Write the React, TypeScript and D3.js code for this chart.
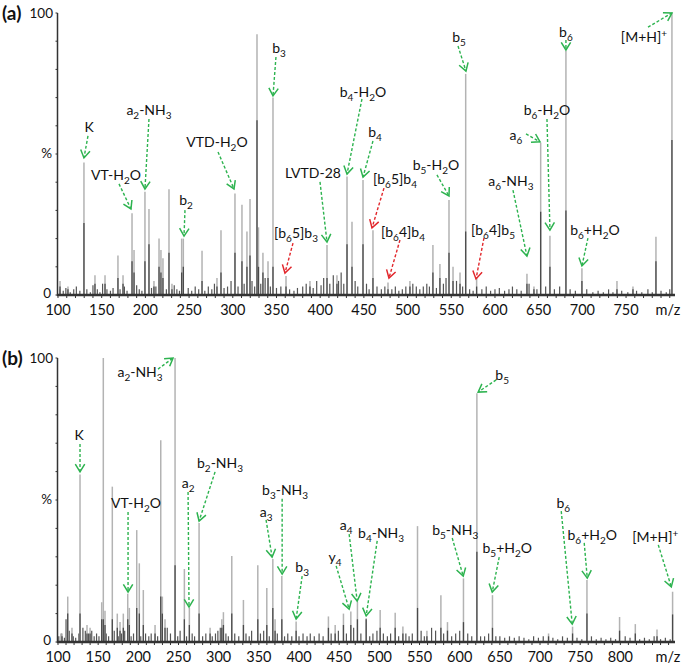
import React from "react";
import * as d3 from "d3";

const ticksA = [100, 150, 200, 250, 300, 350, 400, 450, 500, 550, 600, 650, 700, 750];
const ticksB = [100, 150, 200, 250, 300, 350, 400, 450, 500, 550, 600, 650, 700, 750, 800];

// [m/z, light intensity %, dark intensity %]
const peaksA: [number, number, number][] = [
  [102.3, 5, 3], [111.4, 3, 2], [129.7, 47, 25.5], [142.3, 7, 4], [153.8, 7, 4],
  [168.6, 14, 6], [174.4, 7, 4], [184.7, 29, 12], [187, 16, 8], [199.5, 36.6, 12],
  [204.1, 30.5, 18], [209.8, 5, 3], [215.6, 20, 10], [217.8, 16, 8], [220.1, 13, 6],
  [227, 37.5, 15], [230.4, 4, 2], [241.5, 20, 8], [243.4, 20, 10], [264.8, 15.7, 5],
  [281.9, 6, 3], [286.5, 23, 8], [302.5, 36, 15], [310.5, 32, 12], [316.2, 22.5, 10],
  [319.7, 34, 14], [327.7, 92.5, 62], [329.4, 24, 10], [334.5, 15, 8], [340.3, 12, 6],
  [346, 70, 10], [360.9, 6.7, 3], [388.3, 5, 3], [407.8, 17.7, 6], [419.2, 7, 4],
  [430.7, 42, 18], [436.4, 26, 10], [449, 40.8, 18], [460.4, 23, 6], [477.6, 4.4, 2],
  [502.7, 5, 3], [529, 17.7, 8], [537, 11, 6], [547.4, 33.7, 15], [552, 10, 5],
  [560, 8, 4], [566.5, 78.4, 22.5], [579, 6, 3], [636.6, 7.5, 4], [644.6, 3, 2],
  [652.3, 54, 29.5], [662.9, 21, 10], [681.2, 86.6, 30], [699.5, 9.5, 5], [739.6, 5, 2],
  [757.9, 3, 2], [784.2, 20.7, 12], [802.5, 100, 55],
];

// [m/z, intensity %]
const noiseA: [number, number][] = [
  [102, 2], [106, 1.5], [109, 2.5], [114, 1], [118, 2], [121, 3], [125, 1.5], [133, 2], [137, 1],
  [140, 3.5], [145, 2], [148, 1], [151, 4], [156, 2], [160, 1.5], [163, 2.5], [171, 2], [176, 3],
  [179, 1.5], [190, 3.5], [193, 2], [196, 1.5], [207, 2.5], [212, 3], [224, 2], [233, 3.5], [236, 2],
  [239, 1.5], [249, 2.5], [253, 1.5], [257, 3], [261, 2], [268, 1.5], [272, 3], [276, 2], [279, 4],
  [290, 2.5], [294, 3], [298, 5], [306, 3], [313, 4], [322, 5], [325, 3], [332, 4], [337, 6],
  [343, 3], [350, 2.5], [355, 3], [365, 2], [370, 1.5], [374, 2.5], [380, 3], [384, 4], [392, 2.5],
  [396, 5], [401, 3.5], [404, 6], [411, 4], [415, 7], [421, 5], [424, 8], [427, 4], [440, 5],
  [443, 3], [453, 4], [456, 2], [465, 3], [470, 2], [474, 3], [482, 2], [486, 3], [490, 1.5],
  [494, 2], [498, 3], [506, 4], [510, 3], [514, 2], [518, 3], [522, 4], [525, 3], [533, 2.5],
  [541, 4], [544, 6], [556, 5], [563, 3], [571, 2], [575, 1.5], [585, 2], [590, 3], [595, 1.5],
  [600, 2], [605, 2.5], [611, 1.5], [616, 2], [620, 3], [625, 2], [630, 1.5], [639, 4], [648, 2],
  [658, 3], [668, 2], [674, 3], [686, 2], [692, 1.5], [705, 2], [712, 1], [718, 1.5], [724, 1],
  [730, 2], [735, 1], [745, 1.5], [752, 1], [762, 1.5], [768, 1], [775, 2], [780, 1], [790, 1.5],
  [796, 1], [800, 2],
];

const peaksB: [number, number, number][] = [
  [105, 3, 2], [112.1, 16, 10], [117.4, 5, 3], [127.4, 59, 10], [136.1, 6, 3], [139.9, 5, 3],
  [154.4, 14, 8], [156.4, 100, 8], [158.5, 11, 6], [167.6, 54.7, 8], [173.8, 10, 5], [177.2, 7, 4],
  [181.3, 10, 5], [186.8, 17, 8], [188.8, 12, 6], [198, 39.4, 12], [201.2, 27.7, 10], [206.2, 18.3, 6],
  [220.8, 6, 3], [227.9, 71, 16], [229.9, 16, 10], [233.2, 8, 5], [245.7, 100, 27], [257.3, 25.7, 8],
  [263.5, 12, 6], [275.6, 41.9, 10], [289.3, 5, 3], [303.9, 8, 5], [305.9, 10.5, 6], [316.3, 30.3, 10],
  [330.8, 14.8, 6], [348.7, 27, 8], [359.9, 19, 6], [367.4, 29.2, 12], [370.2, 8, 4], [378.6, 23.2, 8],
  [396.4, 7.2, 4], [436.6, 9, 5], [445, 6, 3], [455.3, 10, 6], [464.5, 10.7, 6], [472.7, 14.2, 8],
  [483.6, 8.4, 8], [501, 11.3, 5], [519.7, 10.3, 5], [529.3, 5.5, 3], [547.5, 40.8, 12], [559.2, 4, 2],
  [576.6, 16.5, 5], [584.8, 7, 4], [604.7, 22.4, 7], [621.4, 87.6, 31.8], [640.8, 16.5, 5], [710.6, 3, 2],
  [740.5, 5.4, 3], [758.4, 21.8, 10], [799, 8.8, 4], [818.6, 6.3, 3], [845.6, 4.4, 2], [865, 17.7, 9.7],
];

const noiseB: [number, number][] = [
  [101, 2], [104, 3], [108, 1.5], [110, 8], [114, 4], [119, 2], [122, 1.5], [126, 3], [131, 5], [134, 4],
  [138, 3], [142, 4], [145, 2], [148, 3], [151, 2], [160, 3], [163, 2], [170, 4], [175, 2], [179, 3],
  [183, 4], [191, 2], [194, 3], [203, 2], [209, 3], [213, 2], [216, 3], [224, 2], [236, 5], [240, 3],
  [249, 2], [252, 4], [260, 2], [267, 3], [270, 2], [280, 2], [284, 3], [292, 2], [296, 3], [299, 4],
  [302, 5], [309, 3], [312, 2], [320, 3], [325, 2], [334, 3], [338, 2], [341, 4], [352, 3], [356, 4],
  [363, 2], [373, 3], [382, 2], [386, 3], [391, 2], [400, 2], [405, 3], [410, 2], [414, 3], [419, 2],
  [425, 3], [430, 2], [440, 3], [449, 4], [459, 3], [468, 5], [477, 3], [488, 2], [492, 3], [497, 4],
  [505, 3], [510, 2], [514, 3], [524, 2], [533, 3], [537, 2], [541, 3], [552, 4], [556, 2], [565, 5],
  [570, 4], [580, 3], [590, 2], [595, 3], [600, 4], [610, 3], [615, 2], [626, 2], [631, 2], [636, 3],
  [645, 2], [650, 2], [656, 1.5], [662, 2], [668, 1.5], [674, 2], [680, 1.5], [686, 1], [692, 2],
  [698, 1.5], [704, 2], [716, 1.5], [722, 1], [728, 2], [734, 1.5], [746, 1.5], [752, 1], [764, 2],
  [770, 1], [776, 1.5], [782, 1], [788, 1.5], [794, 1], [806, 2], [812, 1.5], [824, 1], [830, 1.5],
  [836, 1], [842, 2], [850, 1], [856, 1.5], [862, 1],
];

type Ann = { text: string; red?: boolean; label: [number, number]; tail: [number, number]; tip: [number, number] };

const annA: Ann[] = [
  { text: "K", label: [135.5, 57.8], tail: [134.3, 56.4], tip: [129.7, 48.6] },
  { text: "VT-H_{2}O", label: [166.4, 40.8], tail: [169.8, 39.4], tip: [183.5, 30.5] },
  { text: "a_{2}-NH_{3}", label: [204.1, 63.8], tail: [204.1, 62.4], tip: [199.5, 37.6] },
  { text: "VTD-H_{2}O", label: [281.9, 52.5], tail: [283.1, 50.7], tip: [301.4, 37.6] },
  { text: "b_{2}", label: [246.5, 31.9], tail: [245.3, 30.1], tip: [244.2, 20.9] },
  { text: "b_{3}", label: [352.9, 85.8], tail: [349.4, 84.4], tip: [346, 70.6] },
  { text: "[b_{6}5]b_{3}", red: true, label: [372.3, 20.2], tail: [368.9, 18.4], tip: [359.7, 7.8] },
  { text: "LVTD-28", label: [391.8, 41.5], tail: [399.8, 40.1], tip: [407.8, 18.8] },
  { text: "b_{4}-H_{2}O", label: [449, 70.2], tail: [447.8, 69.5], tip: [430.7, 42.9] },
  { text: "b_{4}", label: [462.7, 56], tail: [460.4, 54.6], tip: [449, 41.8] },
  { text: "b_{5}", label: [558.8, 89.7], tail: [557.7, 88.3], tip: [566.8, 79.4] },
  { text: "b_{6}", label: [681.2, 91.5], tail: [681.2, 90.4], tip: [681.2, 86.9] },
  { text: "[M+H]^{+}", label: [770.5, 89.7], tail: [775.1, 95], tip: [802.5, 100] },
  { text: "b_{6}-H_{2}O", label: [659.5, 63.8], tail: [659.5, 62.4], tip: [662.9, 23] },
  { text: "a_{6}", label: [624, 55], tail: [635.5, 57.1], tip: [651.5, 54.3] },
  { text: "b_{5}-H_{2}O", label: [532.5, 44.3], tail: [533.6, 42.6], tip: [547.4, 35.1] },
  { text: "[b_{6}5]b_{4}", red: true, label: [485.6, 39.2], tail: [473, 37.9], tip: [459.3, 23.8] },
  { text: "a_{6}-NH_{3}", label: [618.3, 38.7], tail: [620.6, 37.2], tip: [636.6, 13.8] },
  { text: "[b_{6}4]b_{4}", red: true, label: [494.7, 20.6], tail: [491.3, 19.5], tip: [478.7, 6] },
  { text: "[b_{6}4]b_{5}", red: true, label: [597.7, 21.3], tail: [587.4, 20.2], tip: [578.3, 5.7] },
  { text: "b_{6}+H_{2}O", label: [714.4, 21.3], tail: [706.4, 20.2], tip: [699.5, 10.3] },
];

const annB: Ann[] = [
  { text: "K", label: [126.2, 71.1], tail: [127.4, 69.7], tip: [127.4, 59.9] },
  { text: "a_{2}-NH_{3}", label: [202.1, 93.3], tail: [224.5, 96.1], tip: [243.2, 100] },
  { text: "b_{2}-NH_{3}", label: [301.7, 61.3], tail: [295.5, 59.9], tip: [275.6, 42.6] },
  { text: "a_{2}", label: [261.9, 54.2], tail: [261.9, 52.8], tip: [263.1, 12.3] },
  { text: "VT-H_{2}O", label: [197.1, 47.2], tail: [187.2, 45.8], tip: [187.2, 17.6] },
  { text: "b_{3}-NH_{3}", label: [382.7, 51.8], tail: [379, 50.4], tip: [379, 23.9] },
  { text: "a_{3}", label: [359, 44], tail: [359, 43], tip: [366.5, 29.9] },
  { text: "b_{3}", label: [403.9, 24.6], tail: [403.9, 23.2], tip: [396.4, 8.1] },
  { text: "y_{4}", label: [444.9, 28.2], tail: [446.2, 26.8], tip: [462.4, 11.6] },
  { text: "a_{4}", label: [458.7, 39.4], tail: [462.4, 38], tip: [472.4, 14.4] },
  { text: "b_{4}-NH_{3}", label: [502.2, 36.6], tail: [497.3, 35.6], tip: [483.6, 9.2] },
  { text: "b_{5}-NH_{3}", label: [594.4, 37.7], tail: [590.7, 36.6], tip: [604.4, 23.2] },
  { text: "b_{5}", label: [652.9, 92.3], tail: [645.4, 92.3], tip: [623, 88] },
  { text: "b_{5}+H_{2}O", label: [659.2, 31.3], tail: [649.2, 29.9], tip: [640.5, 17.6] },
  { text: "b_{6}", label: [728.9, 47.2], tail: [726.4, 46.1], tip: [740.1, 6.3] },
  { text: "b_{6}+H_{2}O", label: [765, 35.9], tail: [755, 34.9], tip: [758.8, 22.5] },
  { text: "[M+H]^{+}", label: [843.5, 35.2], tail: [847.2, 34.2], tip: [863.4, 19.4] },
];

const GREEN = "#2db34f";
const RED = "#e2272c";
const FONT = "Lato, 'Open Sans', sans-serif";

function Label({ x, y, text }: { x: number; y: number; text: string }) {
  const parts = text.match(/(_\{[^}]*\}|\^\{[^}]*\}|[^_^]+)/g) || [];
  let cur = 0;
  return (
    <text x={x} y={y} textAnchor="middle" fontSize={14} fontFamily={FONT} fill="#111">
      {parts.map((p, i) => {
        let off = 0;
        let t = p;
        let fs = 14;
        if (p.startsWith("_{")) { off = 4; t = p.slice(2, -1); fs = 10; }
        else if (p.startsWith("^{")) { off = -5; t = p.slice(2, -1); fs = 10; }
        const dy = off - cur;
        cur = off;
        return <tspan key={i} dy={dy} fontSize={fs}>{t}</tspan>;
      })}
    </text>
  );
}

function Arrow({ x1, y1, x2, y2, color }: { x1: number; y1: number; x2: number; y2: number; color: string }) {
  const a = Math.atan2(y2 - y1, x2 - x1);
  const L = 9;
  const s = 0.55;
  const p1 = [x2 - L * Math.cos(a - s), y2 - L * Math.sin(a - s)];
  const p2 = [x2 - L * Math.cos(a + s), y2 - L * Math.sin(a + s)];
  return (
    <g stroke={color} fill="none" strokeWidth={1.4}>
      <line x1={x1} y1={y1} x2={x2} y2={y2} strokeDasharray="3,2" />
      <polyline points={`${p1[0]},${p1[1]} ${x2},${y2} ${p2[0]},${p2[1]}`} strokeWidth={1.5} />
    </g>
  );
}

function Panel({
  tag, xMax, top, bottom, ticks, peaks, noise, anns, labelY,
}: {
  tag: string; xMax: number; top: number; bottom: number; ticks: number[];
  peaks: [number, number, number][]; noise: [number, number][]; anns: Ann[]; labelY: number;
}) {
  const x = d3.scaleLinear().domain([100, xMax]).range([58, 675]);
  const y = d3.scaleLinear().domain([0, 100]).range([bottom, top]);
  const minor = d3.range(100, xMax, 10);
  const yMinor = d3.range(0, 101, 10);
  return (
    <g>
      <text x={2} y={top + 7} fontSize={19} fontWeight="bold" fontFamily={FONT} fill="#111">{tag}</text>
      <text x={53} y={top + 5} textAnchor="end" fontSize={13.5} fontFamily={FONT} fill="#111">100</text>
      <text x={52} y={y(50) + 4} textAnchor="end" fontSize={13.5} fontFamily={FONT} fill="#111">%</text>
      <text x={51} y={bottom + 3} textAnchor="end" fontSize={13.5} fontFamily={FONT} fill="#111">0</text>
      {noise.map((d, i) => (
        <line key={"n" + i} x1={x(d[0])} x2={x(d[0])} y1={y(0)} y2={y(d[1])} stroke="#555" strokeWidth={1.2} />
      ))}
      {peaks.map((d, i) => (
        <line key={"l" + i} x1={x(d[0])} x2={x(d[0])} y1={y(0)} y2={y(d[1])} stroke="#b3b3b3" strokeWidth={1.5} />
      ))}
      {peaks.map((d, i) => (
        <line key={"d" + i} x1={x(d[0])} x2={x(d[0])} y1={y(0)} y2={y(d[2])} stroke="#4a4a4a" strokeWidth={1.3} />
      ))}
      <line x1={57.5} x2={57.5} y1={top} y2={bottom + 1} stroke="#333" strokeWidth={1.5} />
      {yMinor.map((v) => (
        <line key={"yt" + v} x1={55.5} x2={57.5} y1={y(v)} y2={y(v)} stroke="#333" strokeWidth={1} />
      ))}
      <line x1={57} x2={675} y1={bottom} y2={bottom} stroke="#333" strokeWidth={2.5} />
      {minor.map((v) => (
        <line key={"xt" + v} x1={x(v)} x2={x(v)} y1={bottom} y2={bottom + 3} stroke="#333" strokeWidth={1} />
      ))}
      {ticks.map((v) => (
        <text key={"tl" + v} x={x(v)} y={labelY} textAnchor="middle" fontSize={14.5} fontFamily={FONT} fill="#111">{v}</text>
      ))}
      <text x={668} y={labelY} textAnchor="middle" fontSize={14.5} fontFamily={FONT} fill="#111">m/z</text>
      {anns.map((a, i) => (
        <g key={"a" + i}>
          <Arrow x1={x(a.tail[0])} y1={y(a.tail[1])} x2={x(a.tip[0])} y2={y(a.tip[1])} color={a.red ? RED : GREEN} />
          <Label x={x(a.label[0])} y={y(a.label[1])} text={a.text} />
        </g>
      ))}
    </g>
  );
}

export default function App() {
  return (
    <svg width={685} height={665} style={{ position: "absolute", left: 0, top: 0, background: "#fff" }}>
      <rect width={685} height={665} fill="#fff" />
      <Panel tag="(a)" xMax={806} top={13} bottom={295} ticks={ticksA} peaks={peaksA} noise={noiseA} anns={annA} labelY={315} />
      <Panel tag="(b)" xMax={868} top={358} bottom={642} ticks={ticksB} peaks={peaksB} noise={noiseB} anns={annB} labelY={662} />
    </svg>
  );
}
